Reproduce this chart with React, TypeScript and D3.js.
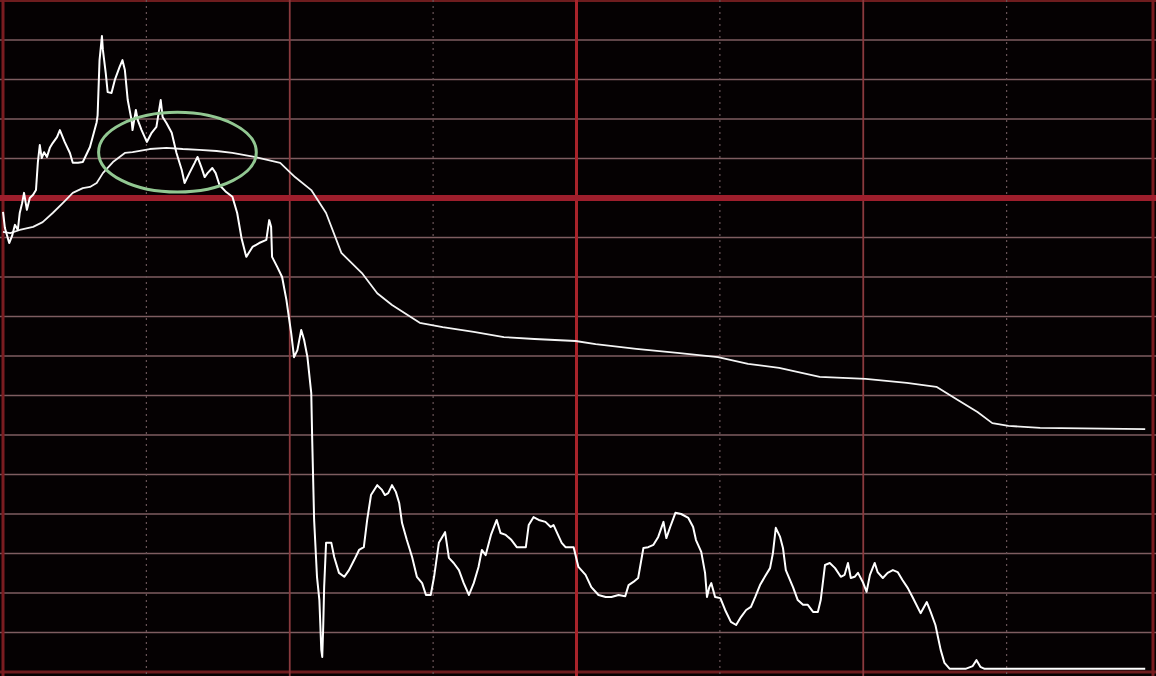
import React from "react";
import * as d3 from "d3";

const W = 1156;
const H = 676;

// Intraday price series: minute since open, change in grid units (% steps)
const priceMinutes = [
  0, 0.4, 1.3, 1.9, 2.5, 3.1, 3.5, 4.0, 4.4, 5.0, 5.6, 6.3, 6.9, 7.3, 7.7, 8.1, 8.6, 9.2, 9.8, 10.4,
  11.3, 11.9, 12.9, 14.0, 14.6, 15.7, 16.7, 18.2, 19.6, 19.8, 20.2, 20.7, 20.9, 21.5, 21.9, 22.7, 23.4, 24.4, 25.0, 25.5,
  26.1, 26.9, 27.1, 27.8, 28.2, 29.0, 30.1, 31.1, 32.1, 33.0, 33.4, 34.2, 35.3, 36.3, 37.4, 38.0, 39.0, 40.1, 40.7, 41.5,
  42.2, 42.8, 43.8, 44.5, 45.3, 46.7, 48.0, 49.0, 49.9, 50.9, 52.2, 53.6, 55.1, 55.7, 56.1, 56.3, 57.4, 58.4, 59.3, 60.3,
  60.9, 61.6, 62.4, 63.0, 63.7, 64.5, 64.7, 65.1, 65.7, 66.2, 66.6, 66.8, 67.0, 67.2, 67.6, 68.7, 69.3, 70.3, 71.4, 72.4,
  73.5, 74.5, 75.5, 76.2, 77.0, 78.3, 79.3, 79.9, 80.6, 81.4, 82.2, 82.9, 83.5, 84.5, 85.6, 86.6, 87.7, 88.5, 89.5, 90.2,
  91.2, 92.5, 93.3, 94.3, 95.4, 96.4, 97.5, 98.5, 99.5, 100.2, 101.0, 102.1, 103.3, 104.1, 105.2, 106.4, 107.5, 109.4, 110.0, 111.0,
  112.1, 113.5, 114.6, 115.2, 116.9, 117.7, 119.4, 120.4, 121.9, 123.1, 124.6, 126.1, 127.3, 128.8, 130.2, 130.9, 131.9, 132.9, 134.0, 135.0,
  136.1, 137.1, 138.2, 138.8, 139.6, 140.7, 141.9, 143.4, 144.4, 145.0, 146.1, 146.9, 147.3, 147.8, 148.2, 149.0, 150.1, 151.1, 152.3, 153.4,
  154.4, 155.5, 156.5, 157.4, 158.4, 159.4, 160.5, 161.1, 161.7, 162.6, 163.2, 163.8, 165.3, 166.3, 167.4, 168.4, 169.5, 170.5, 171.1, 172.0,
  173.0, 174.1, 175.3, 176.1, 176.8, 177.4, 178.2, 178.9, 179.9, 180.7, 181.4, 182.4, 183.0, 184.1, 185.1, 186.2, 187.2, 188.2, 189.3, 190.3,
  192.0, 193.3, 194.1, 195.1, 196.2, 197.0, 198.1, 201.4, 202.9, 203.7, 204.5, 205.4, 239.0,
];
const priceValues = [
  -0.35, -0.76, -1.14, -0.96, -0.68, -0.81, -0.38, -0.13, 0.13, -0.3, 0, 0.08, 0.2, 0.91, 1.34, 1.01, 1.16, 1.04, 1.27, 1.39,
  1.54, 1.72, 1.42, 1.14, 0.89, 0.89, 0.91, 1.29, 1.92, 2.1, 3.49, 4.1, 3.75, 3.16, 2.68, 2.66, 2.99, 3.32, 3.49, 3.24,
  2.48, 1.97, 1.72, 2.23, 1.97, 1.72, 1.42, 1.65, 1.8, 2.48, 2.05, 1.9, 1.65, 1.14, 0.71, 0.38, 0.63, 0.89, 1.04, 0.78,
  0.53, 0.63, 0.76, 0.63, 0.33, 0.15, 0.03, -0.38, -1.01, -1.49, -1.24, -1.14, -1.06, -0.56, -0.73, -1.49, -1.75, -2.0, -2.58, -3.42,
  -4.03, -3.85, -3.34, -3.59, -4.03, -4.94, -6.13, -8.15, -9.59, -10.18, -11.44, -11.62, -10.86, -9.85, -8.73, -8.73, -9.09, -9.49, -9.59, -9.42,
  -9.16, -8.91, -8.84, -8.15, -7.52, -7.27, -7.39, -7.52, -7.47, -7.27, -7.44, -7.72, -8.23, -8.66, -9.09, -9.59, -9.75, -10.05, -10.05, -9.59,
  -8.73, -8.46, -9.11, -9.24, -9.42, -9.75, -10.05, -9.75, -9.34, -8.91, -9.04, -8.53, -8.15, -8.48, -8.53, -8.66, -8.84, -8.84, -8.28, -8.08,
  -8.15, -8.2, -8.33, -8.28, -8.73, -8.84, -8.84, -9.34, -9.54, -9.85, -10.05, -10.1, -10.1, -10.05, -10.08, -9.8, -9.72, -9.62, -8.86, -8.84,
  -8.78, -8.58, -8.2, -8.61, -8.33, -7.97, -8.0, -8.1, -8.33, -8.66, -8.96, -9.49, -10.1, -9.85, -9.75, -10.1, -10.13, -10.43, -10.73, -10.81,
  -10.61, -10.43, -10.35, -10.1, -9.8, -9.59, -9.37, -8.99, -8.35, -8.58, -8.86, -9.42, -9.85, -10.18, -10.3, -10.3, -10.48, -10.48, -10.18, -9.29,
  -9.24, -9.37, -9.59, -9.54, -9.24, -9.62, -9.59, -9.49, -9.72, -9.97, -9.54, -9.24, -9.47, -9.62, -9.49, -9.42, -9.47, -9.67, -9.87, -10.1,
  -10.51, -10.23, -10.48, -10.81, -11.44, -11.77, -11.92, -11.92, -11.85, -11.7, -11.87, -11.92, -11.92,
];

// Average price line
const avgMinutes = [
  0, 1.5, 3.5, 6.3, 8.3, 10.4, 12.5, 14.6, 16.7, 18.2, 19.6, 20.9, 23.0, 25.5, 27.1, 30.7, 34.2, 37.6, 41.1, 44.7,
  48.0, 52.6, 58.0, 61.1, 64.5, 67.6, 70.8, 75.1, 78.3, 81.4, 87.2, 92.0, 98.5, 104.8, 111.2, 119.8, 124.0, 132.5, 141.1, 149.6,
  155.9, 162.4, 170.9, 180.5, 189.1, 195.3, 199.7, 203.9, 207.0, 210.4, 217.0, 239.0,
];
const avgValues = [
  -0.86, -0.89, -0.81, -0.73, -0.61, -0.38, -0.13, 0.13, 0.25, 0.28, 0.38, 0.63, 0.91, 1.14, 1.16, 1.24, 1.27, 1.24, 1.22, 1.19,
  1.14, 1.04, 0.89, 0.53, 0.2, -0.38, -1.39, -1.9, -2.41, -2.71, -3.16, -3.27, -3.39, -3.52, -3.57, -3.62, -3.7, -3.82, -3.92, -4.03,
  -4.2, -4.3, -4.53, -4.58, -4.68, -4.78, -5.11, -5.42, -5.7, -5.77, -5.82, -5.85,
];

// Grid definitions
const hGridLevels = d3.range(-12, 6); // -12 .. 5
const vGridMinutes = d3.range(0, 241, 30); // 0 .. 240

// Annotation ellipse (center minute, center value, half-width minutes, half-height units)
const ellipseCenter = { minute: 36.5, value: 1.16 };
const ellipseRadius = { minutes: 16.5, units: 1.01 };

export default function App() {
  const x = d3.scaleLinear().domain([0, 240]).range([3, 1150]);
  const y = d3.scaleLinear().domain([-12, 5]).range([672, 0.5]);

  const line = d3
    .line<[number, number]>()
    .x((d) => x(d[0]))
    .y((d) => y(d[1]))
    .curve(d3.curveLinear);

  const priceData: [number, number][] = priceMinutes.map((m, i) => [m, priceValues[i]]);
  const avgData: [number, number][] = avgMinutes.map((m, i) => [m, avgValues[i]]);

  const ex = x(ellipseCenter.minute);
  const ey = y(ellipseCenter.value);
  const erx = x(ellipseRadius.minutes) - x(0);
  const ery = y(0) - y(ellipseRadius.units);

  return (
    <svg
      width={W}
      height={H}
      style={{ position: "absolute", left: 0, top: 0, display: "block", background: "#050102" }}
    >
      <rect x={0} y={0} width={W} height={H} fill="#050102" />
      {/* horizontal grid */}
      {hGridLevels
        .filter((v) => v !== 0)
        .map((v) => (
          <line
            key={"h" + v}
            x1={0}
            x2={W}
            y1={y(v)}
            y2={y(v)}
            stroke={v === 5 || v === -12 ? "#6e1c1e" : "#7e5d60"}
            strokeWidth={v === 5 || v === -12 ? 3 : 1.6}
          />
        ))}
      {/* vertical grid */}
      {vGridMinutes.map((m, i) => {
        const xx = x(m);
        if (i === 0) return null;
        if (i === 8) return null;
        if (i === 4)
          return <line key={"v" + m} x1={xx} x2={xx} y1={0} y2={H} stroke="#a8232a" strokeWidth={3} />;
        if (i % 2 === 0)
          return <line key={"v" + m} x1={xx} x2={xx} y1={0} y2={H} stroke="#8a3a3e" strokeWidth={1.8} />;
        return (
          <line
            key={"v" + m}
            x1={xx}
            x2={xx}
            y1={0}
            y2={H}
            stroke="#6a5458"
            strokeWidth={1.2}
            strokeDasharray="2 4"
          />
        );
      })}
      {/* border */}
      <line x1={3} x2={3} y1={0} y2={H} stroke="#7a1c20" strokeWidth={3} />
      <line x1={1153} x2={1153} y1={0} y2={H} stroke="#7a1c20" strokeWidth={3} />
      {/* zero line */}
      <line x1={0} x2={W} y1={y(0)} y2={y(0)} stroke="#9e1e2c" strokeWidth={6} />

      {/* average line */}
      <path d={line(avgData) || ""} fill="none" stroke="#f4f4f4" strokeWidth={1.8} strokeLinejoin="round" />
      {/* price line */}
      <path d={line(priceData) || ""} fill="none" stroke="#ffffff" strokeWidth={2} strokeLinejoin="round" />

      {/* annotation ellipse */}
      <ellipse cx={ex} cy={ey} rx={erx} ry={ery} fill="none" stroke="#92c892" strokeWidth={3} />
    </svg>
  );
}
